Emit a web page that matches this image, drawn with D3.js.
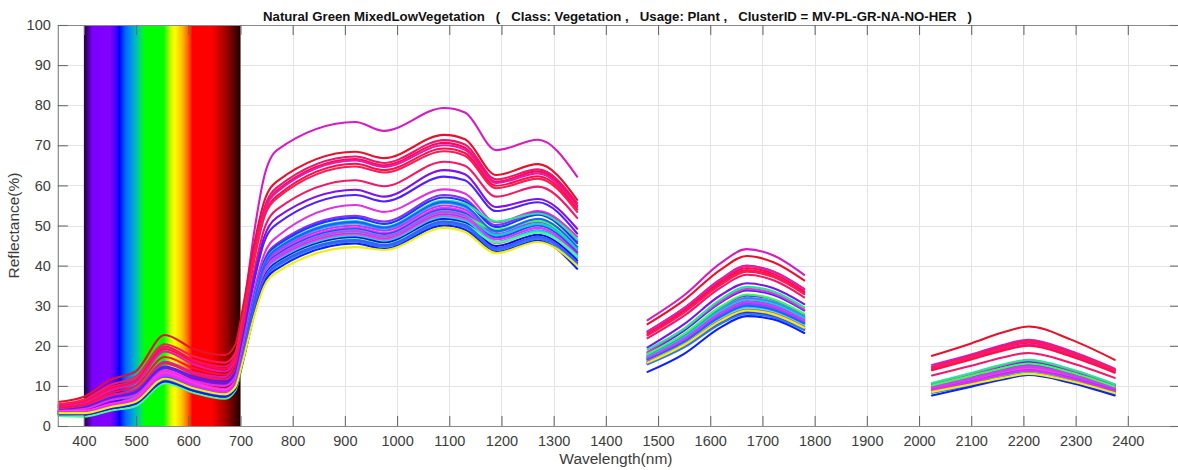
<!DOCTYPE html>
<html>
<head>
<meta charset="utf-8">
<script src="https://cdn.jsdelivr.net/npm/d3@7"></script>
<style>
  html, body { margin: 0; padding: 0; background: #ffffff; }
  svg { display: block; font-family: "Liberation Sans", Arial, Helvetica, sans-serif; }
</style>
</head>
<body>
<svg id="chart" width="1178" height="470"></svg>
<script>
// Sampled wavelengths (nm) for the three measured spectral windows
const vnirNm  = [350, 400, 450, 500, 555, 610, 670, 690, 705, 725, 745, 770, 920, 975, 1090, 1130, 1190, 1270, 1345];
const swir1Nm = [1480, 1550, 1620, 1670, 1720, 1780];
const swir2Nm = [2025, 2100, 2160, 2210, 2290, 2375];

// Line colour of every spectrum
const lineColors = [
  "#d81bc0", "#e8112d", "#f01470", "#ff0a50", "#e21cae", "#ff1040", "#ff1a58", "#f2186a",
  "#7c12f2", "#5220ff", "#e032e0", "#8a2cff", "#1a38ff", "#22e890", "#00b4ff", "#b03cff",
  "#ff2cf0", "#2448ff", "#00d6d0", "#36ff50", "#9246ff", "#ff46c8", "#00e4f4", "#d838ff",
  "#1f60ff", "#0a0ae6", "#48ff88", "#f026f0", "#2878ff", "#3a5cff", "#0c20ff", "#f0f000"
];

// Reflectance (%) at vnirNm
const vnirRefl = [
  [4.6, 5.2, 7.6, 9.2, 16.0, 13.4, 12.2, 15.6, 28.0, 47.3, 62.0, 68.8, 75.8, 73.6, 79.3, 78.2, 68.8, 71.4, 62.2],
  [6.0, 7.3, 11.5, 13.7, 22.7, 19.2, 17.7, 20.3, 29.8, 44.5, 55.8, 61.0, 68.4, 66.8, 72.6, 71.5, 62.6, 65.3, 56.4],
  [5.2, 6.2, 9.6, 11.6, 19.8, 16.4, 14.8, 17.5, 27.3, 42.5, 54.1, 59.5, 67.2, 65.6, 71.3, 70.2, 61.5, 64.0, 55.6],
  [5.0, 6.0, 9.2, 11.2, 19.2, 16.0, 14.2, 16.9, 26.7, 41.9, 53.4, 58.8, 66.6, 65.0, 70.6, 69.4, 60.9, 63.5, 55.0],
  [4.8, 5.7, 8.8, 10.8, 18.6, 15.4, 13.6, 16.3, 26.1, 41.4, 53.0, 58.4, 66.2, 64.6, 70.0, 68.9, 60.6, 63.0, 54.6],
  [4.5, 5.3, 8.2, 10.0, 17.2, 14.4, 12.8, 15.5, 25.3, 40.5, 52.0, 57.4, 65.4, 63.8, 69.2, 68.1, 59.9, 62.3, 54.0],
  [5.4, 6.6, 10.2, 12.4, 20.4, 17.4, 15.8, 18.3, 27.3, 41.2, 51.9, 56.8, 64.7, 63.2, 68.5, 67.4, 59.3, 61.7, 53.4],
  [4.1, 4.8, 7.4, 9.0, 15.6, 13.0, 11.6, 14.1, 23.5, 37.9, 48.9, 54.0, 61.3, 59.8, 65.9, 64.9, 57.2, 59.7, 51.9],
  [3.8, 4.4, 6.8, 8.3, 14.4, 11.8, 10.4, 12.9, 22.0, 36.2, 47.0, 52.0, 58.9, 57.2, 63.8, 62.8, 54.6, 56.6, 49.2],
  [3.9, 4.6, 7.0, 8.6, 14.8, 12.3, 11.0, 13.4, 22.0, 35.4, 45.7, 50.4, 57.6, 56.0, 62.2, 61.3, 53.6, 55.8, 48.0],
  [3.7, 4.2, 6.4, 7.8, 13.8, 11.3, 10.0, 12.2, 20.4, 33.1, 42.7, 47.2, 55.1, 53.4, 59.0, 58.0, 50.8, 53.6, 47.2],
  [3.6, 3.6, 5.3, 6.9, 13.2, 10.6, 8.8, 11.0, 19.1, 31.6, 41.1, 45.5, 52.4, 51.0, 57.6, 56.6, 50.1, 53.3, 46.1],
  [3.3, 3.3, 5.0, 6.5, 12.6, 10.0, 8.4, 10.6, 18.6, 31.1, 40.6, 45.0, 51.9, 50.4, 57.0, 56.0, 49.6, 52.7, 45.6],
  [3.5, 3.5, 5.2, 6.8, 13.0, 10.4, 8.7, 11.0, 18.7, 30.8, 40.1, 44.4, 51.1, 49.7, 56.2, 55.4, 51.0, 53.0, 46.5],
  [3.3, 3.3, 4.9, 6.4, 12.4, 9.9, 8.3, 10.4, 18.3, 30.4, 39.7, 43.9, 50.6, 49.2, 55.6, 54.6, 48.4, 51.4, 44.5],
  [3.5, 3.5, 5.1, 6.7, 12.8, 10.2, 8.6, 10.7, 18.4, 30.3, 39.3, 43.5, 50.0, 48.7, 55.0, 54.0, 47.9, 50.9, 44.0],
  [3.7, 3.8, 5.5, 7.1, 13.5, 10.9, 9.2, 11.2, 18.7, 30.2, 39.0, 43.0, 49.5, 48.1, 54.4, 53.4, 47.3, 50.3, 43.5],
  [3.2, 3.2, 4.8, 6.2, 11.9, 9.5, 8.0, 10.1, 17.7, 29.6, 38.5, 42.7, 49.1, 47.8, 54.0, 53.0, 47.0, 50.0, 43.2],
  [3.3, 3.3, 4.9, 6.3, 12.2, 9.8, 8.2, 10.2, 17.7, 29.4, 38.2, 42.3, 48.8, 47.4, 53.6, 52.6, 47.6, 50.4, 44.2],
  [3.2, 3.2, 4.8, 6.2, 12.0, 9.6, 8.0, 10.0, 17.5, 29.0, 37.8, 41.9, 48.3, 47.0, 53.1, 52.2, 49.0, 51.2, 44.6],
  [3.3, 3.3, 4.9, 6.4, 12.3, 9.8, 8.2, 10.2, 17.6, 29.0, 37.7, 41.7, 48.0, 46.7, 52.8, 51.8, 45.9, 48.8, 42.2],
  [3.6, 3.7, 5.3, 6.9, 13.0, 10.5, 8.9, 10.9, 18.0, 29.0, 37.5, 41.4, 47.7, 46.4, 52.4, 51.5, 45.6, 48.5, 41.9],
  [3.1, 3.1, 4.6, 6.0, 11.6, 9.3, 7.8, 9.8, 17.1, 28.4, 37.1, 41.1, 47.3, 46.0, 52.0, 51.1, 45.8, 48.6, 42.0],
  [3.5, 3.5, 5.2, 6.7, 12.9, 10.3, 8.6, 10.6, 18.0, 29.4, 38.2, 42.2, 48.6, 47.3, 53.4, 52.4, 46.5, 49.4, 42.7],
  [3.2, 3.2, 4.8, 6.3, 12.2, 9.7, 8.1, 10.5, 18.3, 30.4, 39.9, 44.2, 50.9, 49.5, 55.9, 54.9, 48.6, 51.7, 44.7],
  [3.0, 3.0, 4.5, 5.8, 11.3, 9.0, 7.5, 9.5, 16.8, 28.1, 36.8, 40.8, 47.0, 45.7, 51.6, 50.7, 44.9, 47.7, 41.3],
  [2.5, 2.3, 3.8, 5.0, 10.7, 8.3, 6.8, 8.8, 16.2, 27.6, 36.4, 40.4, 46.6, 45.3, 51.2, 50.3, 45.8, 48.2, 42.4],
  [3.4, 3.5, 5.1, 6.6, 12.6, 10.1, 8.5, 10.4, 17.4, 28.1, 36.4, 40.2, 46.3, 45.0, 50.9, 50.0, 44.3, 47.1, 40.7],
  [3.0, 3.0, 4.5, 5.9, 11.4, 9.1, 7.6, 9.5, 16.7, 27.8, 36.0, 39.9, 46.0, 44.7, 50.5, 49.6, 43.9, 46.7, 40.4],
  [3.1, 3.1, 4.6, 6.0, 11.7, 9.3, 7.8, 9.8, 17.0, 28.3, 36.4, 40.3, 46.4, 45.1, 51.0, 50.1, 44.4, 47.2, 40.8],
  [2.9, 2.9, 4.3, 5.6, 11.1, 8.8, 7.3, 9.2, 16.2, 27.1, 35.4, 39.2, 45.5, 44.2, 50.0, 49.0, 43.4, 46.2, 39.2],
  [3.2, 3.2, 4.7, 6.1, 11.8, 9.4, 7.9, 9.7, 16.4, 26.8, 34.7, 38.4, 44.6, 43.9, 49.4, 48.4, 43.1, 45.9, 40.0]
];

// Reflectance (%) at swir1Nm
const swir1Refl = [
  [26.4, 32.6, 40.6, 44.1, 42.6, 37.7],
  [25.4, 31.4, 39.0, 42.4, 40.9, 36.3],
  [23.6, 29.4, 36.6, 40.0, 38.6, 34.2],
  [23.2, 29.0, 36.1, 39.4, 38.0, 33.6],
  [23.5, 29.4, 36.5, 39.9, 38.5, 34.1],
  [22.8, 28.6, 35.6, 38.9, 37.5, 33.2],
  [22.6, 28.3, 35.2, 38.5, 37.2, 32.9],
  [21.9, 27.5, 34.5, 37.7, 36.4, 32.1],
  [19.6, 25.4, 32.6, 35.6, 34.4, 30.4],
  [18.3, 23.8, 30.8, 33.8, 32.7, 28.8],
  [18.5, 24.2, 31.1, 34.2, 33.1, 29.1],
  [17.9, 22.8, 29.6, 32.5, 31.5, 27.7],
  [17.2, 21.9, 28.5, 31.3, 30.3, 26.7],
  [19.1, 24.3, 31.6, 34.7, 33.6, 29.6],
  [17.6, 22.4, 29.1, 32.0, 31.0, 27.3],
  [17.4, 22.2, 28.8, 31.7, 30.7, 27.0],
  [16.9, 21.6, 28.0, 30.8, 29.8, 26.3],
  [16.6, 21.1, 27.5, 30.2, 29.2, 25.8],
  [17.3, 22.1, 28.7, 31.5, 30.5, 26.9],
  [18.0, 23.0, 29.8, 32.8, 31.7, 28.0],
  [16.8, 21.4, 27.8, 30.5, 29.5, 26.0],
  [16.5, 21.0, 27.3, 30.0, 29.0, 25.6],
  [16.3, 20.7, 26.9, 29.6, 28.7, 25.2],
  [17.0, 21.7, 28.2, 31.0, 30.0, 26.4],
  [16.5, 21.0, 27.3, 30.0, 29.0, 25.6],
  [15.6, 19.9, 25.8, 28.4, 27.5, 24.2],
  [16.1, 20.4, 26.6, 29.2, 28.3, 24.9],
  [16.0, 20.3, 26.4, 29.0, 28.1, 24.7],
  [15.4, 19.6, 25.5, 28.0, 27.1, 23.9],
  [15.7, 20.0, 26.0, 28.6, 27.7, 24.4],
  [13.5, 18.0, 24.6, 27.4, 26.6, 23.2],
  [15.8, 20.2, 26.2, 28.8, 27.9, 24.5]
];

// Reflectance (%) at swir2Nm
const swir2Refl = [
  [15.2, 17.8, 20.2, 21.5, 18.7, 14.3],
  [17.5, 20.6, 23.3, 24.8, 21.6, 16.5],
  [14.7, 17.5, 19.9, 21.2, 18.4, 14.0],
  [14.4, 17.2, 19.5, 20.8, 18.1, 13.8],
  [14.1, 16.8, 19.1, 20.3, 17.7, 13.5],
  [13.9, 16.6, 18.8, 20.0, 17.4, 13.3],
  [14.6, 17.3, 19.6, 21.0, 18.3, 14.0],
  [12.6, 15.0, 17.1, 18.2, 15.8, 12.0],
  [10.5, 12.6, 14.9, 16.0, 13.8, 10.2],
  [10.0, 12.1, 14.3, 15.5, 13.3, 9.8],
  [10.5, 12.8, 15.1, 16.4, 14.0, 10.3],
  [9.8, 12.0, 13.9, 15.0, 12.9, 9.5],
  [9.4, 11.6, 13.4, 14.5, 12.5, 9.1],
  [10.7, 13.2, 15.3, 16.5, 14.2, 10.4],
  [9.2, 11.4, 13.1, 14.2, 12.2, 8.9],
  [9.5, 11.7, 13.5, 14.6, 12.6, 9.2],
  [9.7, 11.9, 13.8, 14.9, 12.8, 9.4],
  [8.8, 10.9, 12.6, 13.6, 11.7, 8.6],
  [9.1, 11.2, 13.0, 14.0, 12.0, 8.8],
  [10.1, 12.5, 14.4, 15.6, 13.4, 9.8],
  [9.2, 11.3, 13.0, 14.1, 12.1, 8.9],
  [9.3, 11.4, 13.2, 14.3, 12.3, 9.0],
  [8.7, 10.7, 12.4, 13.4, 11.5, 8.4],
  [9.6, 11.8, 13.7, 14.8, 12.7, 9.3],
  [9.0, 11.1, 12.9, 13.9, 12.0, 8.8],
  [8.4, 10.3, 11.9, 12.9, 11.1, 8.1],
  [8.6, 10.6, 12.2, 13.2, 11.4, 8.3],
  [9.0, 11.0, 12.8, 13.8, 11.9, 8.7],
  [8.3, 10.2, 11.8, 12.8, 11.0, 8.1],
  [8.5, 10.5, 12.1, 13.1, 11.3, 8.3],
  [7.6, 9.8, 11.6, 12.7, 10.8, 7.6],
  [8.5, 10.4, 12.0, 13.0, 11.2, 8.2]
];

// Axis ticks
const xTickValues = [400, 500, 600, 700, 800, 900, 1000, 1100, 1200, 1300, 1400, 1500, 1600, 1700, 1800, 1900, 2000, 2100, 2200, 2300, 2400];
const yTickValues = [0, 10, 20, 30, 40, 50, 60, 70, 80, 90, 100];

// Visible-light colour bar (wavelength nm, colour)
const spectrumStops = [
  [400, "#1a0046"], [408, "#4a0090"], [416, "#7a00ff"], [450, "#8400ff"], [460, "#4a00ff"],
  [468, "#0000ff"], [480, "#0068ff"], [495, "#00a8d8"], [508, "#00e070"], [516, "#00ff00"],
  [553, "#00ff00"], [566, "#ccff00"], [574, "#ffff00"], [588, "#ffc000"], [600, "#ff6000"],
  [608, "#ff0000"], [645, "#ff0000"], [672, "#a00000"], [700, "#1e0000"]
];

const titleText = "Natural Green MixedLowVegetation   (   Class: Vegetation ,   Usage: Plant ,   ClusterID = MV-PL-GR-NA-NO-HER   )";

const svg = d3.select("#chart");
const plot = { left: 57.8, right: 1180, top: 25, bottom: 426 };

const x = d3.scaleLinear().domain([350, 2500]).range([plot.left, plot.right]);
const y = d3.scaleLinear().domain([0, 100]).range([plot.bottom, plot.top]);

const defs = svg.append("defs");
const grad = defs.append("linearGradient")
  .attr("id", "visBand")
  .attr("gradientUnits", "userSpaceOnUse")
  .attr("x1", x(400)).attr("x2", x(700))
  .attr("y1", 0).attr("y2", 0);
grad.selectAll("stop").data(spectrumStops).join("stop")
  .attr("offset", d => (d[0] - 400) / 300)
  .attr("stop-color", d => d[1]);

defs.append("clipPath").attr("id", "plotClip")
  .append("rect")
  .attr("x", plot.left).attr("y", plot.top)
  .attr("width", plot.right - plot.left).attr("height", plot.bottom - plot.top);

// Grid
const grid = svg.append("g").attr("stroke", "#e4e4e4").attr("stroke-width", 1);
grid.selectAll("line.gx").data(xTickValues).join("line")
  .attr("class", "gx")
  .attr("x1", d => Math.round(x(d)) + 0.5).attr("x2", d => Math.round(x(d)) + 0.5)
  .attr("y1", plot.top).attr("y2", plot.bottom);
grid.selectAll("line.gy").data(yTickValues.slice(1, -1)).join("line")
  .attr("class", "gy")
  .attr("y1", d => Math.round(y(d)) + 0.5).attr("y2", d => Math.round(y(d)) + 0.5)
  .attr("x1", plot.left).attr("x2", plot.right);

// Visible spectrum band
svg.append("rect")
  .attr("x", x(400)).attr("y", plot.top)
  .attr("width", x(700) - x(400)).attr("height", plot.bottom - plot.top)
  .attr("fill", "url(#visBand)");

// Spectra
const line = d3.line().curve(d3.curveMonotoneX);
const curves = svg.append("g").attr("clip-path", "url(#plotClip)")
  .attr("fill", "none").attr("stroke-width", 2.1)
  .attr("stroke-linejoin", "round").attr("stroke-linecap", "round");

const segments = [
  { nm: vnirNm, refl: vnirRefl },
  { nm: swir1Nm, refl: swir1Refl },
  { nm: swir2Nm, refl: swir2Refl }
];
lineColors.forEach((col, i) => {
  segments.forEach(seg => {
    const pts = seg.nm.map((w, k) => [x(w), y(seg.refl[i][k])]);
    curves.append("path").attr("d", line(pts)).attr("stroke", col);
  });
});

// Axes
const axisColor = "#8a8a8a";
const labelColor = "#3c3c3c";
const plainNum = d3.format("d");

function styleAxis(g) {
  g.select(".domain").attr("stroke", axisColor).attr("stroke-width", 1.2);
  g.selectAll(".tick line").attr("stroke", "#6a6a6a").attr("stroke-width", 1.1);
  g.selectAll(".tick text").attr("fill", labelColor).attr("font-size", 14.5)
    .attr("font-family", "'Liberation Sans', Arial, sans-serif");
}

svg.append("g").attr("transform", `translate(0,${plot.bottom})`)
  .call(d3.axisBottom(x).tickValues(xTickValues).tickFormat(plainNum)
    .tickSizeInner(-10).tickSizeOuter(0).tickPadding(9.5))
  .call(styleAxis);
svg.append("g").attr("transform", `translate(0,${plot.top})`)
  .call(d3.axisTop(x).tickValues(xTickValues).tickSizeInner(-10).tickSizeOuter(0).tickFormat(""))
  .call(styleAxis);
svg.append("g").attr("transform", `translate(${plot.left},0)`)
  .call(d3.axisLeft(y).tickValues(yTickValues).tickFormat(plainNum)
    .tickSizeInner(-10).tickSizeOuter(0).tickPadding(7))
  .call(styleAxis);
svg.append("g").attr("transform", `translate(${plot.right},0)`)
  .call(d3.axisRight(y).tickValues(yTickValues).tickSizeInner(-10).tickSizeOuter(0).tickFormat(""))
  .call(styleAxis);

// Axis titles
svg.append("text")
  .attr("x", (x(350) + x(2500)) / 2 - 3).attr("y", 464)
  .attr("text-anchor", "middle")
  .attr("fill", labelColor).attr("font-size", 15.5)
  .text("Wavelength(nm)");

svg.append("text")
  .attr("transform", `translate(19,${(plot.top + plot.bottom) / 2}) rotate(-90)`)
  .attr("text-anchor", "middle")
  .attr("fill", labelColor).attr("font-size", 15.5)
  .text("Reflectance(%)");

// Title
svg.append("text")
  .attr("x", 617.5).attr("y", 21)
  .attr("text-anchor", "middle")
  .attr("font-weight", "bold").attr("font-size", 12.5)
  .attr("fill", "#111")
  .attr("textLength", 709).attr("lengthAdjust", "spacingAndGlyphs")
  .style("white-space", "pre")
  .text(titleText);
</script>
</body>
</html>
